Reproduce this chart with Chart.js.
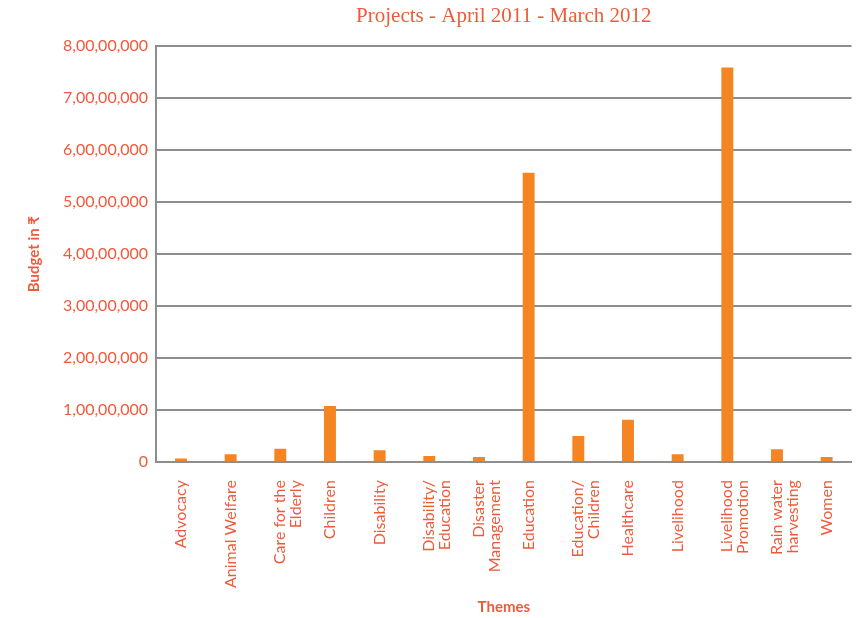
<!DOCTYPE html>
<html>
<head>
<meta charset="utf-8">
<script src="https://cdn.jsdelivr.net/npm/chart.js@4.4.1/dist/chart.umd.min.js"></script>
<style>
  html, body { margin: 0; padding: 0; background: #fff; }
  #wrap { width: 861px; height: 618px; }
</style>
</head>
<body>
<div id="wrap"><canvas id="myChart" width="861" height="618"></canvas></div>
<script>
// themes (x categories), multi-line where the original wraps
const themes = [
    'Advocacy',
    'Animal Welfare',
    ['Care for the', 'Elderly'],
    'Children',
    'Disability',
    ['Disability/', 'Education'],
    ['Disaster', 'Management'],
    'Education',
    ['Education/', 'Children'],
    'Healthcare',
    'Livelihood',
    ['Livelihood', 'Promotion'],
    ['Rain water', 'harvesting'],
    'Women'
];

// budget in rupees
const budget = [
    700000, 1500000, 2570000, 10800000, 2260000, 1160000, 970000,
    55650000, 5000000, 8170000, 1500000, 75900000, 2450000, 1000000
];

const yTicks = [0, 10000000, 20000000, 30000000, 40000000, 50000000, 60000000, 70000000, 80000000];

const labelColor = '#ef5a3b';
const barColor = '#f58522';
const gridColor = '#8e8e8e';

// indian grouping: 8,00,00,000
function inr(v) {
    let s = String(Math.round(v));
    if (s.length <= 3) return s;
    let last = s.slice(-3);
    let rest = s.slice(0, -3);
    rest = rest.replace(/\B(?=(\d{2})+(?!\d))/g, ',');
    return rest + ',' + last;
}

const ctx = document.getElementById('myChart').getContext('2d');

const config = {
    type: 'bar',
    data: {
        labels: themes,
        datasets: [{
            label: 'Budget',
            data: budget,
            backgroundColor: barColor,
            borderWidth: 0,
            categoryPercentage: 0.8,
            barPercentage: 0.3
        }]
    },
    options: {
        responsive: false,
        animation: false,
        layout: {
            padding: { left: 25, right: -3, top: 0, bottom: 0 }
        },
        plugins: {
            legend: { display: false },
            tooltip: { enabled: false },
            title: {
                display: true,
                fullSize: false,
                text: 'Projects - April 2011 - March 2012',
                color: labelColor,
                font: { family: 'Liberation Serif', size: 21, weight: 'normal' },
                padding: { top: 4, bottom: 17 }
            }
        },
        scales: {
            x: {
                grid: { display: false, drawTicks: false },
                border: { display: true, color: gridColor, width: 2 },
                ticks: {
                    color: labelColor,
                    font: { family: 'Lato', size: 16, lineHeight: 1.0 },
                    minRotation: 90,
                    maxRotation: 90,
                    autoSkip: false,
                    padding: 18
                },
                title: {
                    display: true,
                    text: 'Themes',
                    color: labelColor,
                    font: { family: 'Lato', size: 15, weight: 'bold' },
                    padding: { top: -8, bottom: 2 }
                }
            },
            y: {
                min: 0,
                max: 80000000,
                afterBuildTicks: (axis) => {
                    axis.ticks = yTicks.map(v => ({ value: v }));
                },
                grid: {
                    color: gridColor,
                    lineWidth: 2,
                    drawTicks: false
                },
                border: { display: true, color: gridColor, width: 2 },
                ticks: {
                    color: labelColor,
                    font: { family: 'Lato', size: 16 },
                    padding: 8,
                    callback: (v) => inr(v)
                },
                title: {
                    display: true,
                    text: 'Budget in ₹',
                    color: labelColor,
                    font: { family: 'Lato', size: 15, weight: 'bold' },
                    padding: { top: 0, bottom: 12 }
                }
            }
        }
    }
};

const myChart = new Chart(ctx, config);
</script>
</body>
</html>
